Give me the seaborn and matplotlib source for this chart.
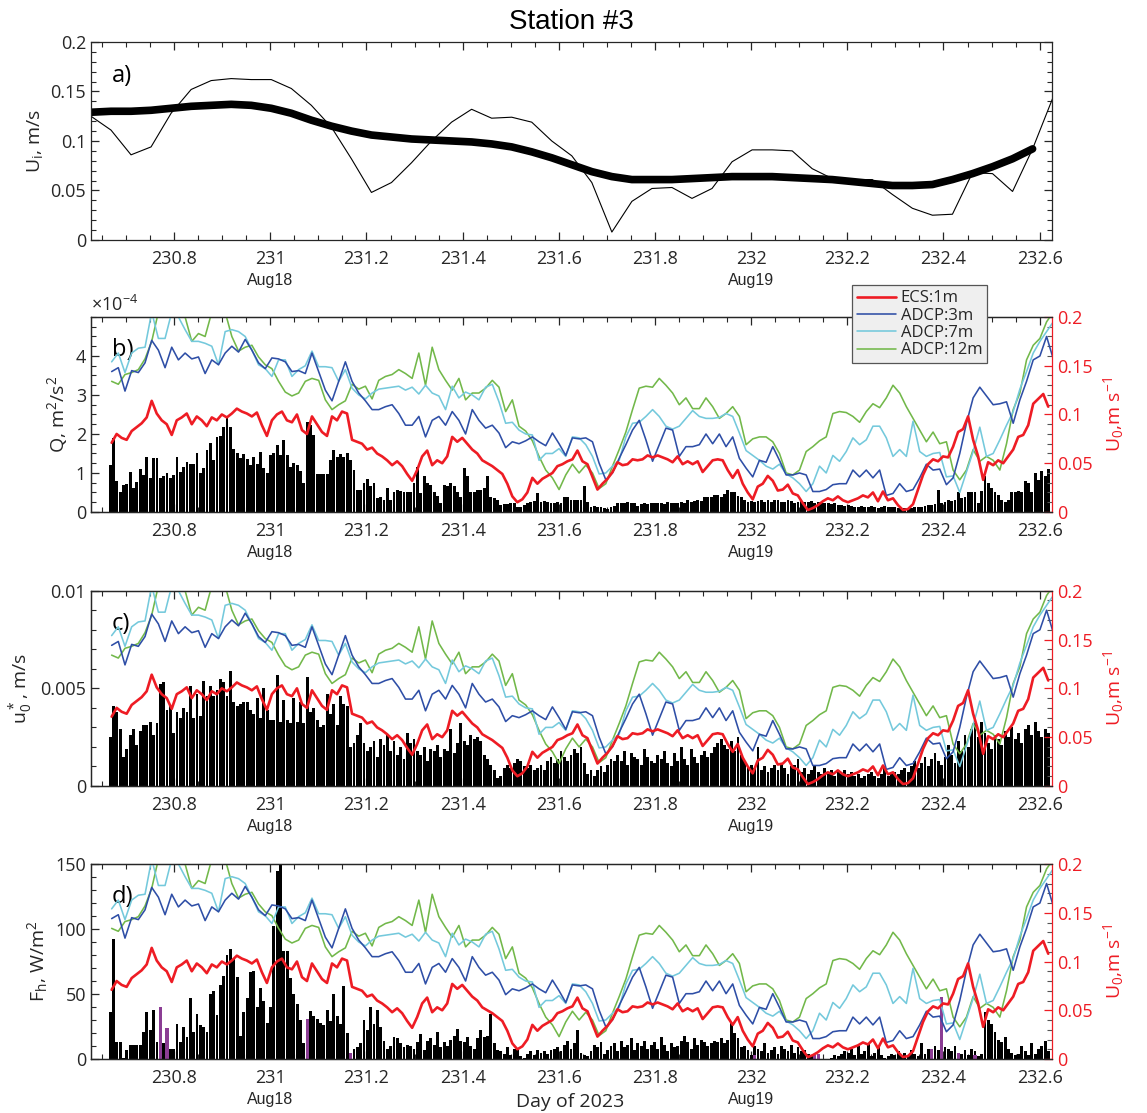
import numpy as np
import matplotlib
matplotlib.use("Agg")
import matplotlib.pyplot as plt
import seaborn as sns
from matplotlib.ticker import MultipleLocator, FixedLocator, FuncFormatter
from matplotlib.lines import Line2D

# ---------------- data ----------------
XMIN, XMAX = 230.627, 232.626

# panel a: hourly U_i and its smoothed version
ui_start, ui_step = 230.627, 1 / 24
ui_hourly = [0.125, 0.111, 0.086, 0.094, 0.128, 0.152, 0.161, 0.163, 0.162, 0.162,
             0.153, 0.136, 0.114, 0.082, 0.048, 0.058, 0.078, 0.100, 0.119, 0.132,
             0.123, 0.124, 0.119, 0.100, 0.085, 0.058, 0.008, 0.039, 0.052, 0.053,
             0.042, 0.052, 0.079, 0.091, 0.091, 0.090, 0.072, 0.062, 0.061, 0.061,
             0.046, 0.032, 0.025, 0.026, 0.068, 0.067, 0.049, 0.092, 0.143]
ui_smooth = [0.129, 0.130, 0.130, 0.131, 0.133, 0.135, 0.136, 0.137, 0.136, 0.133,
             0.128, 0.121, 0.115, 0.110, 0.106, 0.104, 0.102, 0.101, 0.100, 0.099,
             0.097, 0.094, 0.089, 0.083, 0.076, 0.069, 0.064, 0.061, 0.061, 0.061,
             0.062, 0.063, 0.064, 0.064, 0.064, 0.063, 0.062, 0.061, 0.059, 0.057,
             0.055, 0.055, 0.056, 0.061, 0.067, 0.074, 0.082, 0.092]

# ECS near-surface current speed (15 min)
ecs_start, ecs_step = 230.670, 1 / 96
ecs_u0 = [0.071, 0.080, 0.076, 0.074, 0.083, 0.087, 0.091, 0.097, 0.114, 0.101,
          0.094, 0.090, 0.079, 0.094, 0.097, 0.101, 0.090, 0.098, 0.094, 0.088,
          0.097, 0.094, 0.100, 0.097, 0.101, 0.106, 0.103, 0.101, 0.098, 0.102,
          0.089, 0.078, 0.094, 0.100, 0.103, 0.094, 0.092, 0.100, 0.084, 0.080,
          0.098, 0.090, 0.082, 0.078,
          0.098, 0.094, 0.103, 0.101, 0.074, 0.072, 0.070, 0.064, 0.066, 0.060,
          0.057, 0.053, 0.048, 0.052, 0.047, 0.039, 0.032, 0.043, 0.057, 0.063,
          0.048, 0.053, 0.050, 0.057, 0.077, 0.072, 0.076, 0.070, 0.064, 0.060,
          0.053, 0.050, 0.047, 0.043, 0.039, 0.029, 0.016, 0.010, 0.013, 0.020,
          0.035, 0.029, 0.034, 0.037, 0.040, 0.047, 0.049,
          0.052, 0.054, 0.063, 0.052, 0.049, 0.036, 0.023, 0.029, 0.034, 0.041,
          0.051, 0.048, 0.049, 0.054, 0.053, 0.054, 0.058, 0.056, 0.058, 0.056,
          0.054, 0.051, 0.057, 0.049, 0.052, 0.049, 0.052, 0.041, 0.047, 0.053,
          0.054, 0.053, 0.043, 0.035, 0.043, 0.029, 0.020, 0.013, 0.026, 0.029,
          0.037, 0.032, 0.022, 0.023, 0.028, 0.019, 0.017,
          0.009, 0.002, 0.004, 0.007, 0.011, 0.014, 0.012, 0.016, 0.012, 0.010,
          0.012, 0.014, 0.017, 0.015, 0.020, 0.011, 0.021, 0.012, 0.014, 0.007,
          0.002, 0.003, 0.008, 0.023, 0.038, 0.049, 0.054, 0.052, 0.057, 0.056,
          0.067, 0.082, 0.085, 0.098, 0.074, 0.057, 0.033, 0.051, 0.048, 0.053,
          0.050, 0.057, 0.064, 0.077, 0.079, 0.089, 0.111, 0.116, 0.121, 0.108]

# ADCP current speed at three depths (20 min)
adcp_start, adcp_step = 230.670, 1 / 72
adcp_3m = [0.144, 0.148, 0.124, 0.145, 0.143, 0.153, 0.176, 0.166, 0.148, 0.169,
           0.156, 0.163, 0.157, 0.159, 0.142, 0.156, 0.151, 0.163, 0.170, 0.164,
           0.177, 0.166, 0.153, 0.147, 0.158, 0.157, 0.154, 0.144, 0.145, 0.142,
           0.163, 0.144, 0.125,
           0.114, 0.134, 0.154, 0.134, 0.122, 0.114, 0.105, 0.105, 0.108, 0.110,
           0.101, 0.089, 0.089, 0.098, 0.077, 0.094, 0.098, 0.089, 0.103, 0.094,
           0.080, 0.105, 0.094, 0.086, 0.089, 0.081, 0.066, 0.072, 0.070, 0.073,
           0.077, 0.072, 0.068, 0.081, 0.070, 0.058,
           0.076, 0.075, 0.076, 0.072, 0.050, 0.033, 0.040, 0.055, 0.069, 0.084,
           0.094, 0.074, 0.052, 0.069, 0.086, 0.084, 0.057, 0.067, 0.067, 0.069,
           0.080, 0.070, 0.080, 0.067, 0.077, 0.055, 0.045, 0.036, 0.053, 0.051,
           0.067, 0.053, 0.038, 0.038, 0.040,
           0.038, 0.021, 0.021, 0.023, 0.028, 0.029, 0.029, 0.043, 0.036, 0.043,
           0.035, 0.043, 0.017, 0.019, 0.029, 0.021, 0.023, 0.035, 0.049, 0.043,
           0.044, 0.028, 0.035, 0.060, 0.091, 0.117, 0.128, 0.119, 0.110, 0.111,
           0.113, 0.091, 0.115, 0.134, 0.156, 0.160, 0.180, 0.157]
adcp_7m = [0.154, 0.163, 0.143, 0.163, 0.168, 0.169, 0.205, 0.178, 0.178, 0.205,
           0.200, 0.187, 0.175, 0.175, 0.173, 0.170, 0.151, 0.185, 0.187, 0.185,
           0.180, 0.166, 0.151, 0.147, 0.139, 0.156, 0.156, 0.139, 0.146, 0.150,
           0.165, 0.149, 0.149,
           0.148, 0.134, 0.146, 0.127, 0.120, 0.116, 0.122, 0.126, 0.127, 0.128,
           0.129, 0.125, 0.128, 0.121, 0.130, 0.122, 0.119, 0.105, 0.129, 0.117,
           0.123, 0.120, 0.115, 0.128, 0.131, 0.113, 0.091, 0.092, 0.084, 0.080,
           0.079, 0.053, 0.060, 0.060, 0.065, 0.057,
           0.077, 0.076, 0.069, 0.057, 0.039, 0.040, 0.047, 0.053, 0.077, 0.091,
           0.092, 0.098, 0.105, 0.098, 0.088, 0.085, 0.088, 0.096, 0.104, 0.098,
           0.096, 0.096, 0.097, 0.101, 0.098, 0.081, 0.063, 0.058, 0.053, 0.047,
           0.044, 0.049, 0.039, 0.035, 0.029,
           0.021, 0.029, 0.047, 0.040, 0.058, 0.052, 0.062, 0.076, 0.069, 0.074,
           0.088, 0.088, 0.076, 0.057, 0.064, 0.057, 0.093, 0.062, 0.057, 0.060,
           0.061, 0.036, 0.037, 0.020, 0.041, 0.062, 0.087, 0.057, 0.060, 0.074,
           0.089, 0.103, 0.126, 0.144, 0.163, 0.175, 0.185, 0.195]
adcp_12m = [0.134, 0.131, 0.141, 0.143, 0.146, 0.157, 0.175, 0.205, 0.210, 0.205,
            0.210, 0.200, 0.175, 0.183, 0.180, 0.205, 0.210, 0.205, 0.180, 0.165,
            0.169, 0.171, 0.159, 0.151, 0.147, 0.134, 0.123, 0.119, 0.122, 0.134,
            0.137, 0.135, 0.115,
            0.105, 0.110, 0.114, 0.131, 0.126, 0.129, 0.116, 0.135, 0.139, 0.141,
            0.146, 0.142, 0.137, 0.163, 0.130, 0.169, 0.146, 0.135, 0.125, 0.137,
            0.115, 0.122, 0.122, 0.127, 0.135, 0.128, 0.103, 0.115, 0.088, 0.083,
            0.073, 0.057, 0.043, 0.035, 0.023, 0.038,
            0.049, 0.040, 0.048, 0.040, 0.024, 0.029, 0.047, 0.064, 0.082, 0.105,
            0.127, 0.129, 0.128, 0.137, 0.130, 0.122, 0.110, 0.117, 0.106, 0.106,
            0.117, 0.108, 0.096, 0.101, 0.108, 0.098, 0.069, 0.075, 0.077, 0.077,
            0.072, 0.060, 0.040, 0.038, 0.043,
            0.062, 0.067, 0.073, 0.077, 0.101, 0.103, 0.102, 0.098, 0.092, 0.103,
            0.111, 0.107, 0.117, 0.130, 0.122, 0.108, 0.096, 0.084, 0.072, 0.082,
            0.070, 0.072, 0.043, 0.033, 0.043, 0.064, 0.052, 0.057, 0.053, 0.043,
            0.070, 0.105, 0.122, 0.156, 0.171, 0.178, 0.195, 0.205]

# 10-min bars
bar_start, bar_step = 230.667, 1 / 144
# Q, x1e-4 m2/s2
q_bars = [1.21, 1.89, 0.80, 0.50, 0.69, 0.72, 1.03, 0.61, 0.78, 1.09,
          0.95, 1.42, 0.86, 1.38, 1.39, 0.86, 0.91, 1.01, 0.86, 0.95,
          1.42, 1.03, 1.15, 1.29, 1.23, 1.23, 1.52, 1.01, 1.12, 1.59,
          1.76, 1.33, 1.91, 1.95, 2.19, 2.40, 2.19, 1.61, 1.50, 1.38,
          1.49, 1.35, 1.21, 1.42, 1.23, 1.55, 1.12, 1.01, 1.46, 1.52,
          1.72, 1.46, 1.85, 1.46, 1.16, 1.25, 1.21, 1.06, 0.75, 2.32,
          2.23, 1.97, 0.97, 0.97, 0.97, 0.97,
          1.33, 1.59, 1.42, 1.49, 1.42, 1.52, 1.33, 1.08, 0.56, 0.56,
          0.74, 0.84, 0.67, 0.74, 0.35, 0.39, 0.32, 0.61, 0.31, 0.52,
          0.56, 0.55, 0.52, 0.50, 0.52, 0.74, 1.15, 0.48, 0.91, 0.74,
          0.69, 0.50, 0.41, 0.24, 0.69, 0.67, 0.74, 0.67, 0.52, 0.39,
          1.12, 0.91, 0.50, 0.52, 0.56, 0.56, 0.61, 0.91, 0.38, 0.35,
          0.32, 0.18, 0.21, 0.21, 0.22, 0.22, 0.14, 0.12, 0.18, 0.24,
          0.26, 0.29, 0.48, 0.26, 0.29, 0.26, 0.24, 0.24, 0.26, 0.24, 0.39,
          0.38, 0.32, 0.31, 0.31, 0.32, 0.67, 0.26, 0.14, 0.15, 0.14,
          0.12, 0.09, 0.07, 0.14, 0.15, 0.24, 0.22, 0.24, 0.26, 0.24,
          0.22, 0.15, 0.21, 0.24, 0.21, 0.22, 0.24, 0.22, 0.24, 0.21,
          0.26, 0.24, 0.22, 0.24, 0.26, 0.24, 0.31, 0.26, 0.29, 0.32,
          0.29, 0.39, 0.38, 0.39, 0.44, 0.44, 0.39, 0.46, 0.56, 0.52,
          0.50, 0.41, 0.39, 0.31, 0.26, 0.29, 0.26, 0.29, 0.31, 0.26,
          0.32, 0.26, 0.31, 0.31, 0.26, 0.26, 0.31, 0.29, 0.24, 0.26,
          0.29, 0.26, 0.26, 0.29, 0.24, 0.26, 0.24, 0.22, 0.24, 0.21,
          0.22, 0.18, 0.18, 0.15, 0.18, 0.15, 0.12, 0.14, 0.15, 0.12,
          0.14, 0.15, 0.14, 0.09, 0.14, 0.15, 0.14, 0.12, 0.12, 0.09,
          0.07, 0.09, 0.07, 0.09, 0.12, 0.14, 0.14, 0.15, 0.18, 0.18,
          0.21, 0.56, 0.22, 0.26, 0.31, 0.29, 0.32, 0.52, 0.35, 0.39,
          0.50, 0.50, 0.52, 0.22, 0.55, 0.91, 0.74, 0.61, 0.52, 0.44,
          0.31, 0.26, 0.32, 0.52, 0.52, 0.55, 0.52, 0.80, 0.74, 0.52,
          0.99, 0.83, 1.04, 0.91, 1.10]
# u0*, x1e-3 m/s
ustar_bars = [2.5, 4.1, 3.8, 2.9, 1.5, 1.9, 2.6, 2.9, 2.1, 2.8,
              3.1, 3.1, 3.3, 2.6, 3.2, 5.2, 5.3, 3.9, 4.1,
              2.7, 3.8, 3.5, 4.0, 3.8, 5.1, 3.5, 4.7, 3.6, 5.4,
              4.6, 5.1, 4.6, 4.9, 5.5, 5.3, 4.6, 5.9, 4.3, 4.1,
              4.2, 4.3, 4.3, 3.9, 3.7, 4.5, 3.5, 5.0, 3.9,
              3.4, 3.4, 5.7, 3.3, 4.4, 3.4, 3.2, 4.5, 3.3, 4.3,
              3.2, 5.6, 3.8, 4.0, 3.4, 3.0, 3.1, 4.7, 3.7, 4.2,
              3.1, 4.6, 4.2, 4.1,
              2.0, 2.2, 2.6, 3.2, 2.2, 1.8, 2.0, 2.3, 1.5, 2.4,
              2.1, 2.6, 1.8, 2.3, 1.6, 2.0, 1.4, 2.7, 2.2, 2.4,
              1.8, 1.6, 2.0, 1.3, 1.9, 1.8, 2.1, 1.5, 1.9, 1.8,
              2.9, 1.7, 2.2, 3.2,
              2.3, 2.1, 2.6, 2.4, 2.5, 2.3, 1.6, 1.4, 1.1, 0.8,
              0.4, 0.5, 0.9, 1.1, 0.9, 1.2, 1.4, 1.3, 1.0, 0.9,
              1.1, 0.8, 0.9, 1.1, 0.8, 1.3, 1.5, 1.2,
              1.4, 1.8, 1.5, 1.3, 1.6, 1.9, 1.7, 2.0, 1.2, 0.6,
              0.8, 0.5, 0.8, 1.0, 0.7, 1.1, 1.4, 1.3, 1.6, 1.3,
              1.8, 1.1, 1.7, 1.5, 1.4, 1.1, 1.9, 1.5, 1.3,
              1.2, 1.6, 1.4, 1.8, 1.2, 1.0, 1.7, 1.3, 2.0, 1.4,
              1.1, 1.9, 1.5, 1.2, 1.6, 1.8, 1.5, 1.7, 2.0, 2.2,
              2.4, 2.1, 1.9, 2.3, 1.8, 2.5, 1.6, 1.3, 1.0,
              1.1, 0.9, 2.0, 0.8, 1.0, 0.7, 0.9, 1.1, 0.8, 1.2,
              0.9, 0.6, 1.0, 1.1, 1.4, 0.7, 0.9, 0.6, 0.8, 1.1,
              0.7, 0.6, 0.9, 0.6, 0.8, 0.5, 0.7, 0.6, 0.8,
              0.6, 0.7, 0.5, 0.6, 0.4, 0.5, 0.6, 0.7, 0.5, 0.4,
              0.6, 0.9, 0.5, 0.6, 0.7, 0.6, 0.8, 0.9, 0.7, 1.0,
              1.3, 0.9, 1.2, 1.5, 1.0, 1.4, 1.7, 1.3, 1.1,
              1.5, 2.1, 1.6, 1.2, 2.3, 1.8, 2.6, 2.0, 2.9, 3.2,
              2.5, 3.3, 2.7, 2.2, 1.9, 2.6, 2.4, 2.1, 2.8, 2.5,
              3.0, 2.4, 2.7, 2.2, 2.9, 3.1, 2.6, 3.3, 2.8, 2.5,
              2.9, 2.7]
# F_h, W/m2 (black) and the purple-marked intervals
fh_bars = [36, 92, 13, 13, 1, 7, 11, 11, 11, 11,
           21, 36, 22, 38, 13, 0, 12, 0, 8,
           8, 27, 13, 25, 17, 47, 21, 35, 26, 25,
           21, 50, 52, 34, 57, 64, 80, 85, 77, 63,
           18, 36, 47, 67, 68, 40, 55, 45, 28,
           40, 102, 145, 152, 83, 83, 62, 50, 42, 30,
           12, 0, 37, 33, 31, 28, 26, 38, 29, 50,
           33, 27, 56, 20,
           0, 8, 9, 12, 30, 22, 40, 27, 38, 25,
           14, 8, 10, 17, 16, 12, 9, 11, 10, 8,
           13, 19, 7, 14, 16, 11, 21, 9, 13, 10,
           15, 18, 23, 14,
           13, 17, 10, 8, 16, 22, 17, 18, 35, 12,
           7, 6, 4, 9, 3, 8, 7, 2, 1, 4,
           6, 3, 7, 5, 6, 4, 7, 8,
           9, 6, 11, 14, 8, 12, 22, 5, 3, 2,
           6, 11, 9, 13, 4, 7, 10, 12, 6, 14,
           9, 11, 16, 7, 12, 10, 14, 8, 11,
           13, 8, 17, 11, 6, 12, 9, 10, 14, 18,
           13, 8, 16, 11, 15, 13, 10, 12, 14, 13,
           16, 12, 15, 28, 20, 16, 9, 10, 7,
           3, 10, 8, 6, 12, 5, 7, 9, 4, 10,
           8, 6, 11, 5, 9, 6, 7, 4, 3, 2,
           1, 0, 0, 0, 1, 3, 2, 4, 6,
           5, 8, 3, 10, 4, 6, 12, 2, 5, 9,
           3, 1, 2, 4, 3, 6, 2, 5, 3, 7,
           4, 2, 12, 4, 8, 0, 10, 7, 0,
           9, 8, 6, 10, 5, 4, 7, 3, 8, 6,
           2, 4, 36, 30, 27, 21, 15, 13, 17, 8,
           5, 3, 4, 10, 6, 3, 12, 4, 8, 10,
           14, 6]
fh_neg_idx = [15, 17, 59, 72, 193, 211, 212, 246, 249, 254, 259]
fh_neg_vals = [40, 24, 31, 5, 3, 3, 4, 8, 48, 5, 3]

aug_days = [231.0, 232.0]
aug_labels = ["Aug18", "Aug19"]

speed_names = ["ECS:1m", "ADCP:3m", "ADCP:7m", "ADCP:12m"]
speed_colors = ["#ee1c24", "#2e4ea6", "#74c9dc", "#72b84a"]
RED = "#ee1c24"
INK = "#262626"
PURPLE = "#8b3d94"

# ---------------- style ----------------
sns.set_theme(style="ticks")
plt.rcParams["font.family"] = ["Open Sans", "DejaVu Sans"]
plt.rcParams["mathtext.default"] = "regular"
plt.rcParams["axes.edgecolor"] = INK
plt.rcParams["axes.linewidth"] = 0.9
plt.rcParams["text.color"] = INK

ui_t = ui_start + np.arange(len(ui_hourly)) * ui_step
ui_ts = ui_start + np.arange(len(ui_smooth)) * ui_step
ecs_t = ecs_start + np.arange(len(ecs_u0)) * ecs_step
adcp_t = adcp_start + np.arange(len(adcp_3m)) * adcp_step


def bar_times(vals):
    return bar_start + np.arange(len(vals)) * bar_step


fmt_g = FuncFormatter(lambda v, p: f"{v:g}")


def style_x(ax):
    ax.set_xlim(XMIN, XMAX)
    ax.xaxis.set_major_locator(MultipleLocator(0.2))
    ax.xaxis.set_minor_locator(MultipleLocator(0.05))
    ax.xaxis.set_major_formatter(fmt_g)
    ax.tick_params(axis="x", which="both", direction="in", top=True, bottom=True,
                   labelsize=13, pad=7, color=INK, labelcolor=INK)
    ax.tick_params(axis="x", which="major", length=6, width=0.9)
    ax.tick_params(axis="x", which="minor", length=3.5, width=0.8)
    for day, lab in zip(aug_days, aug_labels):
        ax.annotate(lab, xy=(day, 0), xycoords=("data", "axes fraction"),
                    xytext=(0, -29.5), textcoords="offset points", ha="center",
                    va="center", fontsize=11.5, family="Liberation Sans", color=INK)


def style_left(ax, major, minor, ylim, right=False):
    ax.set_ylim(*ylim)
    ax.yaxis.set_major_locator(FixedLocator(major))
    ax.yaxis.set_minor_locator(MultipleLocator(minor))
    ax.yaxis.set_major_formatter(fmt_g)
    ax.tick_params(axis="y", which="both", direction="in", left=True, right=right,
                   labelsize=13, color=INK, labelcolor=INK)
    ax.tick_params(axis="y", which="major", length=6, width=0.9)
    ax.tick_params(axis="y", which="minor", length=3.5, width=0.8)


def add_speed(ax, legend=False):
    tw = ax.twinx()
    series = [ecs_u0, adcp_3m, adcp_7m, adcp_12m]
    times = [ecs_t, adcp_t, adcp_t, adcp_t]
    widths = [1.9, 1.15, 1.15, 1.15]
    for k in [3, 2, 1, 0]:
        sns.lineplot(x=times[k], y=series[k], ax=tw, color=speed_colors[k],
                     linewidth=widths[k], estimator=None, legend=False)
    tw.set_xlim(XMIN, XMAX)
    tw.set_ylim(0, 0.2)
    tw.yaxis.set_major_locator(MultipleLocator(0.05))
    tw.yaxis.set_minor_locator(MultipleLocator(0.01))
    tw.yaxis.set_major_formatter(fmt_g)
    tw.tick_params(axis="y", which="major", direction="in", length=6, width=0.9,
                   color=RED, labelcolor=RED, labelsize=13)
    tw.tick_params(axis="y", which="minor", direction="in", length=3.5, width=0.8,
                   color="#555555")
    tw.spines["right"].set_color(RED)
    tw.set_ylabel(r"U$_0$,m s$^{-1}$", color=RED, fontsize=14, labelpad=6)
    ax.spines["right"].set_visible(False)
    if legend:
        handles = [Line2D([], [], color=c, lw=w) for c, w in zip(speed_colors, widths)]
        leg = tw.legend(handles, speed_names, loc="upper left",
                        bbox_to_anchor=(0.792, 1.162), fontsize=12, frameon=True,
                        fancybox=False, framealpha=1, handlelength=2.3,
                        handletextpad=0.3, labelspacing=0.08, borderpad=0.3,
                        borderaxespad=0)
        leg.get_frame().set_facecolor("#efefef")
        leg.get_frame().set_edgecolor("#555555")
        leg.get_frame().set_linewidth(0.9)
    return tw


fig = plt.figure(figsize=(11.47, 11.13), dpi=100)
L, W = 0.0793, 0.838
ax_a = fig.add_axes([L, 0.7844, W, 0.1779])
ax_b = fig.add_axes([L, 0.5400, W, 0.1752])
ax_c = fig.add_axes([L, 0.2938, W, 0.1755])
ax_d = fig.add_axes([L, 0.0485, W, 0.1752])

# a) intermittent velocity
sns.lineplot(x=ui_t, y=ui_hourly, ax=ax_a, color="black", linewidth=0.8,
             estimator=None, legend=False)
sns.lineplot(x=ui_ts, y=ui_smooth, ax=ax_a, color="black", linewidth=5.5,
             estimator=None, legend=False)
style_x(ax_a)
style_left(ax_a, [0, 0.05, 0.1, 0.15, 0.2], 0.01, (0, 0.2), right=True)
ax_a.set_ylabel(r"U$_i$, m/s", fontsize=14)

bw = bar_step * 0.86

# b) Q
ax_b.bar(bar_times(q_bars), q_bars, width=bw, color="black", linewidth=0)
style_x(ax_b)
style_left(ax_b, [0, 1, 2, 3, 4], 0.25, (0, 5))
ax_b.set_ylabel(r"Q, m$^2$/s$^2$", fontsize=14)
ax_b.text(0.0, 1.012, r"$\times10^{-4}$", transform=ax_b.transAxes, fontsize=13,
          ha="left", va="bottom", color=INK)
add_speed(ax_b, legend=True)

# c) u0*
ax_c.bar(bar_times(ustar_bars), np.array(ustar_bars) * 1e-3, width=bw,
         color="black", linewidth=0)
style_x(ax_c)
style_left(ax_c, [0, 0.005, 0.01], 0.001, (0, 0.01))
ax_c.set_ylabel(r"u$_0^*$, m/s", fontsize=14)
add_speed(ax_c)

# d) heat flux
fh_t = bar_times(fh_bars)
ax_d.bar(fh_t, fh_bars, width=bw, color="black", linewidth=0)
ax_d.bar(fh_t[fh_neg_idx], fh_neg_vals, width=bw * 1.1, color=PURPLE, linewidth=0)
style_x(ax_d)
style_left(ax_d, [0, 50, 100, 150], 10, (0, 150))
ax_d.set_ylabel(r"F$_h$, W/m$^2$", fontsize=14)
add_speed(ax_d)

for ax, lab in zip([ax_a, ax_b, ax_c, ax_d], ["a)", "b)", "c)", "d)"]):
    ax.text(0.022, 0.83, lab, transform=ax.transAxes, fontsize=17, ha="left",
            va="center", color="black", zorder=5)

fig.text(0.498, 0.980, "Station #3", ha="center", va="center", fontsize=20,
         family="Liberation Sans", color="black")
fig.text(0.497, 0.0095, "Day of 2023", ha="center", va="center", fontsize=14,
         color=INK)

fig.savefig("out.png", dpi=100)
